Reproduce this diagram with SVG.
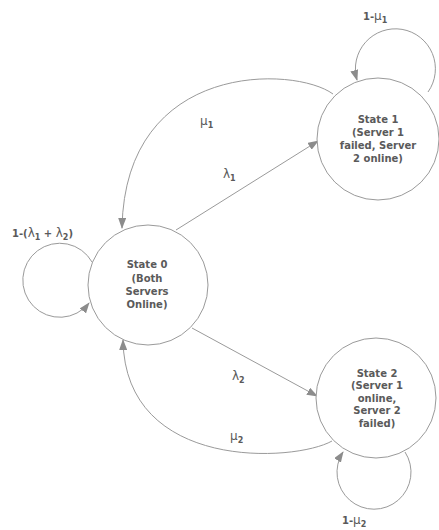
<svg xmlns="http://www.w3.org/2000/svg" width="439" height="530" viewBox="0 0 439 530">
<defs>
<marker id="arr" markerUnits="userSpaceOnUse" markerWidth="11" markerHeight="8" refX="10" refY="4" orient="auto">
<path d="M0,0 L11,4 L0,8 z" fill="#8c8c8c"/>
</marker>
<style>
.node{fill:#fff;stroke:#9a9a9a;stroke-width:1}
.edge{fill:none;stroke:#9a9a9a;stroke-width:1;marker-end:url(#arr)}
.t{font-family:"DejaVu Sans",Verdana,sans-serif;font-size:10px;font-weight:bold;fill:#5a5a5a;text-anchor:middle}
.lb{font-family:"DejaVu Sans",Verdana,sans-serif;font-size:10px;font-weight:bold;fill:#5a5a5a}
.g{font-weight:normal;font-size:12px}
.s{font-size:8px}
</style>
</defs>
<rect width="439" height="530" fill="#fff"/>
<g id="connectors">
<path class="edge" d="M176,230 L318,141"/>
<path class="edge" d="M192,328 L317,396"/>
<path class="edge" d="M333,94 C295,66 125,60 122,228"/>
<path class="edge" d="M332,441 C295,462 125,472 123,340"/>
<path class="edge" d="M428,92 A40,40 0 1,0 357,80"/>
<path class="edge" d="M92,262 A37,37 0 1,0 89,303"/>
<path class="edge" d="M405,452 A37,37 0 1,1 343,452"/>
</g>
<g id="state0">
<circle class="node" cx="148" cy="285" r="60"/>
<text class="t" x="147" y="268">State 0</text>
<text class="t" x="147" y="282">(Both</text>
<text class="t" x="147" y="295">Servers</text>
<text class="t" x="147" y="308">Online)</text>
</g>
<g id="state1">
<circle class="node" cx="378" cy="139" r="61"/>
<text class="t" x="378" y="123">State 1</text>
<text class="t" x="378" y="136">(Server 1</text>
<text class="t" x="378" y="149">failed, Server</text>
<text class="t" x="378" y="162">2 online)</text>
</g>
<g id="state2">
<circle class="node" cx="376" cy="398" r="60"/>
<text class="t" x="377" y="377">State 2</text>
<text class="t" x="377" y="389">(Server 1</text>
<text class="t" x="377" y="402">online,</text>
<text class="t" x="377" y="414">Server 2</text>
<text class="t" x="377" y="427">failed)</text>
</g>
<g id="labels">
<text class="lb" x="363" y="20">1-<tspan class="g">μ</tspan><tspan class="s" dy="3">1</tspan></text>
<text class="lb" x="200" y="125"><tspan class="g">μ</tspan><tspan class="s" dy="3">1</tspan></text>
<text class="lb" x="223" y="178"><tspan class="g">λ</tspan><tspan class="s" dy="3">1</tspan></text>
<text class="lb" x="12" y="237">1-(<tspan class="g">λ</tspan><tspan class="s" dy="3">1</tspan><tspan dy="-3"> + </tspan><tspan class="g">λ</tspan><tspan class="s" dy="3">2</tspan><tspan dy="-3">)</tspan></text>
<text class="lb" x="232" y="380"><tspan class="g">λ</tspan><tspan class="s" dy="3">2</tspan></text>
<text class="lb" x="230" y="440"><tspan class="g">μ</tspan><tspan class="s" dy="3">2</tspan></text>
<text class="lb" x="342" y="524">1-<tspan class="g">μ</tspan><tspan class="s" dy="3">2</tspan></text>
</g>
</svg>
